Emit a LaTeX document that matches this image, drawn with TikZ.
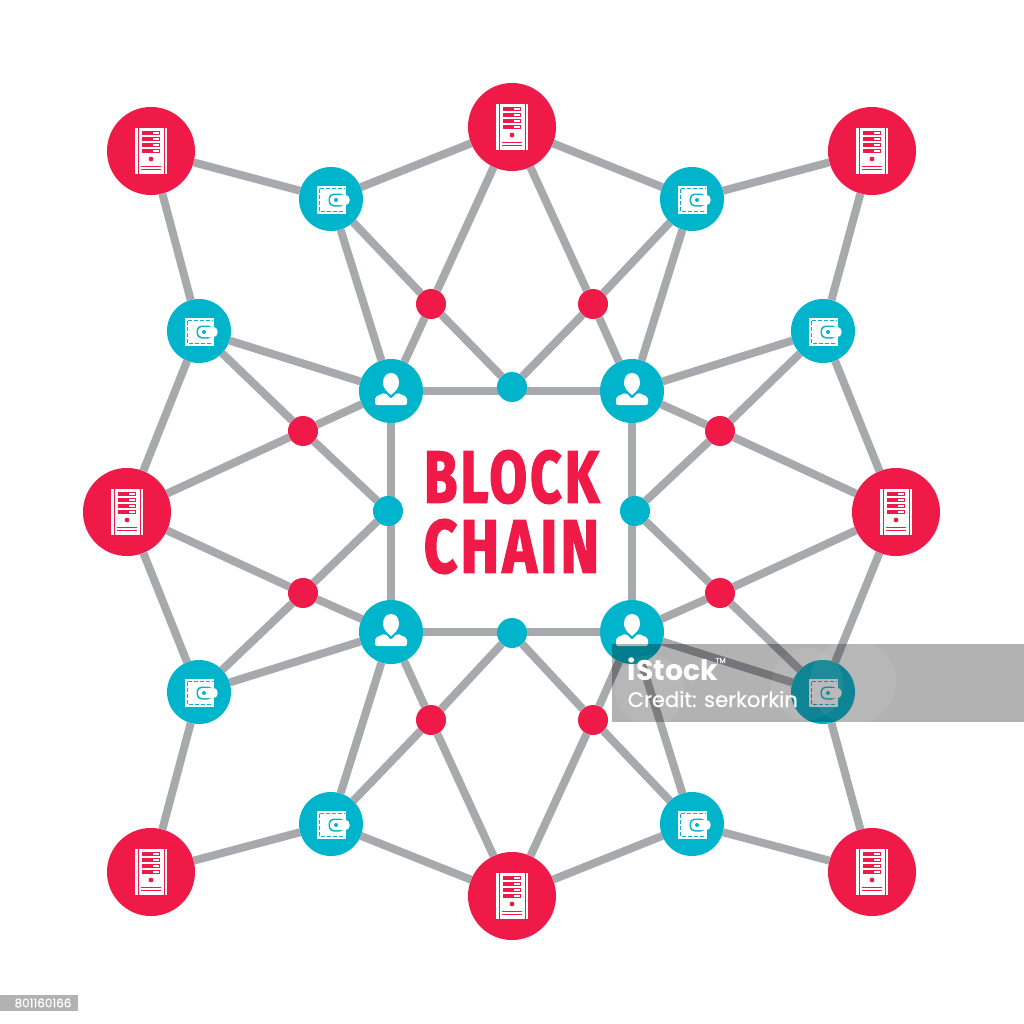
\documentclass[tikz,border=0pt]{standalone}
\usepackage{fontspec}
\usetikzlibrary{backgrounds}
\newfontfamily\wordfont[UprightFont={* Bold}, FakeBold=2.5, LetterSpace=6]{Fira Sans}
\newfontfamily\markfont[FakeBold=0.6]{Poppins}
\newfontfamily\markheavyfont[UprightFont={* Bold}]{Poppins}
\definecolor{chainred}{RGB}{239, 26, 72}
\definecolor{chainblue}{RGB}{0, 180, 204}
\definecolor{chaingray}{RGB}{167, 169, 172}

\tikzset{
  server/.style={circle, fill=chainred, minimum size=0.88cm, inner sep=0pt, outer sep=0pt},
  wallet/.style={circle, fill=chainblue, minimum size=0.64cm, inner sep=0pt, outer sep=0pt},
  person/.style={circle, fill=chainblue, minimum size=0.64cm, inner sep=0pt, outer sep=0pt},
  reddot/.style={circle, fill=chainred, minimum size=0.30cm, inner sep=0pt, outer sep=0pt},
  bluedot/.style={circle, fill=chainblue, minimum size=0.30cm, inner sep=0pt, outer sep=0pt},
  link/.style={draw=chaingray, line width=0.08cm},
  word/.style={inner sep=0pt, outer sep=0pt, text=chainred, font=\wordfont},
  servericon/.pic={
    \fill[white] (-16,-23) rectangle (-13.5,23);
    \fill[white] (13.5,-23) rectangle (16,23);
    \fill[white] (-12.5,-23) rectangle (12.5,23);
    \foreach \y in {-18,-12,-6,0} {
      \fill[chainred] (-9,\y-1.9) rectangle (9,\y+1.9);
      \fill[white] (2,\y-0.7) rectangle (8,\y+0.7);
    }
    \fill[chainred] (0,8) circle (2.4);
    \fill[chainred] (-10,14.5) rectangle (10,15.5);
    \fill[chainred] (-10,18) rectangle (10,19);
  },
  walleticon/.pic={
    \fill[white] (-14,-13) rectangle (15,15);
    \draw[chainblue, line width=0.012cm, dash pattern=on 0.04cm off 0.02cm] (-11.5,-10.5) -- (13,-10.5);
    \draw[chainblue, line width=0.012cm, dash pattern=on 0.04cm off 0.02cm] (-11.5,-10.5) -- (-11.5,12.5) -- (13,12.5);
    \fill[chainblue, rounded corners=0.05cm] (-2.5,-5.5) rectangle (14,7.5);
    \fill[white, rounded corners=0.04cm] (-1,-4) rectangle (18.5,6);
    \fill[chainblue] (5,1) circle (2);
  },
  usericon/.pic={
    \fill[white] (0,-18) .. controls (-5,-18) and (-8,-14) .. (-8,-8)
      .. controls (-8,-3) and (-4,1) .. (0,4)
      .. controls (4,1) and (8,-3) .. (8,-8)
      .. controls (8,-14) and (5,-18) .. (0,-18) -- cycle;
    \fill[white, rounded corners=0.02cm] (-16,14) -- (-16,6) -- (-6,1.5) -- (0,8) -- (6,1.5) -- (16,6) -- (16,14) -- cycle;
  }
}

\begin{document}
\begin{tikzpicture}[x=0.01cm, y=-0.01cm]
\useasboundingbox (0,0) rectangle (1024,1024);

% Outer ring
\node[server] (s1) at (151,151) {};
\node[server] (s2) at (512,127) {};
\node[server] (s3) at (872,151) {};
\node[server] (s4) at (127,512) {};
\node[server] (s5) at (896,512) {};
\node[server] (s6) at (151,872) {};
\node[server] (s7) at (512,896) {};
\node[server] (s8) at (872,872) {};

% Wallets
\node[wallet] (w1) at (331,199) {};
\node[wallet] (w2) at (692,199) {};
\node[wallet] (w3) at (199,331) {};
\node[wallet] (w4) at (823,331) {};
\node[wallet] (w5) at (199,692) {};
\node[wallet] (w6) at (823,692) {};
\node[wallet] (w7) at (331,824) {};
\node[wallet] (w8) at (692,824) {};

% Users
\node[person] (u1) at (391,391) {};
\node[person] (u2) at (632,391) {};
\node[person] (u3) at (391,632) {};
\node[person] (u4) at (632,632) {};

% Small dots
\node[reddot] (r1) at (431,304) {};
\node[reddot] (r2) at (593,304) {};
\node[reddot] (r3) at (303,431) {};
\node[reddot] (r4) at (720,431) {};
\node[reddot] (r5) at (303,593) {};
\node[reddot] (r6) at (720,593) {};
\node[reddot] (r7) at (431,720) {};
\node[reddot] (r8) at (593,720) {};
\node[bluedot] (b1) at (512,387) {};
\node[bluedot] (b2) at (388,511) {};
\node[bluedot] (b3) at (635,511) {};
\node[bluedot] (b4) at (512,633) {};

% Icons
\foreach \n in {s1,s2,s3,s4,s5,s6,s7,s8} \pic at (\n) {servericon};
\foreach \n in {w1,w2,w3,w4,w5,w6,w7,w8} \pic at (\n) {walleticon};
\foreach \n in {u1,u2,u3,u4} \pic at (\n) {usericon};

% Top edges
\draw[link] (s1) -- (w1) (w1) -- (s2) (s2) -- (w2) (w2) -- (s3);
\draw[link] (s2) -- (r1) (s2) -- (r2) (w1) -- (r1) (w1) -- (u1) (w2) -- (r2) (w2) -- (u2);
\draw[link] (r1) -- (u1) (r1) -- (b1) (r2) -- (b1) (r2) -- (u2);

% Left edges
\draw[link] (s1) -- (w3) (w3) -- (s4) (s4) -- (w5) (w5) -- (s6);
\draw[link] (s4) -- (r3) (s4) -- (r5) (w3) -- (r3) (w3) -- (u1) (w5) -- (r5) (w5) -- (u3);
\draw[link] (r3) -- (u1) (r3) -- (b2) (r5) -- (b2) (r5) -- (u3);

% Right edges
\draw[link] (s3) -- (w4) (w4) -- (s5) (s5) -- (w6) (w6) -- (s8);
\draw[link] (s5) -- (r4) (s5) -- (r6) (w4) -- (r4) (w4) -- (u2) (w6) -- (r6) (w6) -- (u4);
\draw[link] (r4) -- (u2) (r4) -- (b3) (r6) -- (b3) (r6) -- (u4);

% Bottom edges
\draw[link] (s6) -- (w7) (w7) -- (s7) (s7) -- (w8) (w8) -- (s8);
\draw[link] (s7) -- (r7) (s7) -- (r8) (w7) -- (r7) (w7) -- (u3) (w8) -- (r8) (w8) -- (u4);
\draw[link] (r7) -- (u3) (r7) -- (b4) (r8) -- (b4) (r8) -- (u4);

% Centre square runs behind its dots
\begin{scope}[on background layer]
\draw[link] (u1) -- (u2) (u3) -- (u4) (u1) -- (u3) (u2) -- (u4);
\end{scope}

% Title
\node[word] (blockword) at (511.5,477) {\resizebox{1.75cm}{0.52cm}{BLOCK}};
\node[word] (chainword) at (511.5,546.5) {\resizebox{1.75cm}{0.53cm}{CHAIN}};

% Stock marks
\begin{scope}
\clip (612,644) rectangle (1024,722);
\fill[black, opacity=0.3] (612,644) rectangle (1024,722);
\fill[white, opacity=0.06] (807,684) circle (36);
\fill[white, opacity=0.06] (853,682) circle (43);
\fill[white, opacity=0.06] (650,690) circle (35);
\end{scope}
\node[anchor=base west, inner sep=0pt, text=white, font=\markheavyfont] (istock) at (627,680) {\resizebox{0.9cm}{!}{iStock}};
\node[anchor=base west, inner sep=0pt, text=white, font=\markfont\fontsize{2pt}{2pt}\selectfont] (tmsign) at (715,663) {TM};
\node[anchor=base west, inner sep=0pt, text=white, font=\markfont\fontsize{6pt}{6pt}\selectfont] (credit) at (627,707) {Credit: serkorkin};
\fill[black, opacity=0.3] (0,995) rectangle (78,1011);
\node[inner sep=0pt, text=white, font=\markfont\fontsize{3.4pt}{4pt}\selectfont] (imageid) at (43,1003) {801160166};
\end{tikzpicture}
\end{document}
